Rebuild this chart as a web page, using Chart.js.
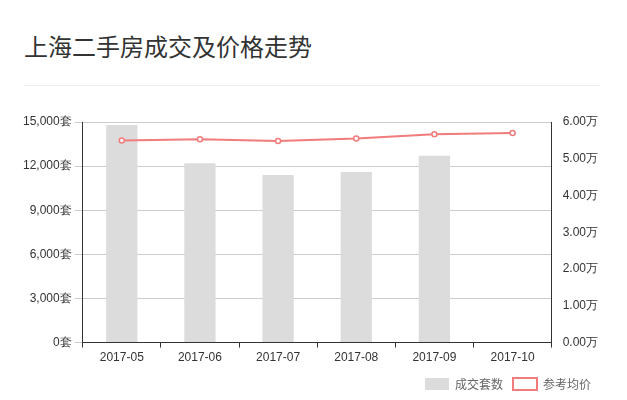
<!DOCTYPE html>
<html><head><meta charset="utf-8">
<script src="https://cdn.jsdelivr.net/npm/chart.js@4"></script>
<style>
body{margin:0;background:#fff;font-family:"Noto Sans CJK SC",sans-serif;}
#title{position:absolute;left:24px;top:28px;font-size:24px;color:#333;}
#sep{position:absolute;left:24px;top:85px;width:576px;border-top:1px solid #eee;}
#wrap{position:absolute;left:0;top:100px;width:627px;height:300px;}
</style></head><body>
<div id="title">上海二手房成交及价格走势</div>
<div id="sep"></div>
<div id="wrap"><canvas id="c"></canvas></div>
<script>
const months = ["2017-05","2017-06","2017-07","2017-08","2017-09","2017-10"];
const deals = [14800, 12200, 11400, 11600, 12700, null];
const prices = [5.50, 5.53, 5.48, 5.55, 5.67, 5.70];

new Chart(document.getElementById("c"), {
  data: {
    labels: months,
    datasets: [
      { type: "line", label: "参考均价", data: prices, yAxisID: "y2", borderColor: "#f07c7c",
        backgroundColor: "#fff", borderWidth: 2, pointRadius: 2.5, pointBorderWidth: 1.5, tension: 0 },
      { type: "bar", label: "成交套数", data: deals, yAxisID: "y", backgroundColor: "#dcdcdc",
        barPercentage: 0.4, categoryPercentage: 1 }
    ]
  },
  options: {
    responsive: true, maintainAspectRatio: false, animation: false,
    layout: { padding: { left: 20, right: 26, top: 22 } },
    plugins: {
      tooltip: { enabled: false },
      legend: { position: "bottom", align: "end", reverse: true,
        labels: { color: "#666", font: { size: 12, family: "Noto Sans CJK SC" }, boxWidth: 24, boxHeight: 12,
          generateLabels: chart => Chart.defaults.plugins.legend.labels.generateLabels(chart).map(l => {
            if (l.text === "参考均价") { l.pointStyle = "circle"; }
            return l;
          }) } }
    },
    scales: {
      x: { grid: { display: true, drawOnChartArea: false, offset: true, tickLength: 5, color: "#333" },
        border: { color: "#333" }, ticks: { color: "#333", font: { size: 12 } } },
      y: { min: 0, max: 15000, ticks: { stepSize: 3000, color: "#333", font: { size: 12 },
          callback: v => v.toLocaleString("en-US") + "套" },
        grid: { color: "#ccc" }, border: { color: "#333" } },
      y2: { position: "right", min: 0, max: 6, ticks: { stepSize: 1, color: "#333", font: { size: 12 },
          callback: v => v.toFixed(2) + "万" },
        grid: { display: false }, border: { color: "#333" } }
    }
  }
});
</script></body></html>
